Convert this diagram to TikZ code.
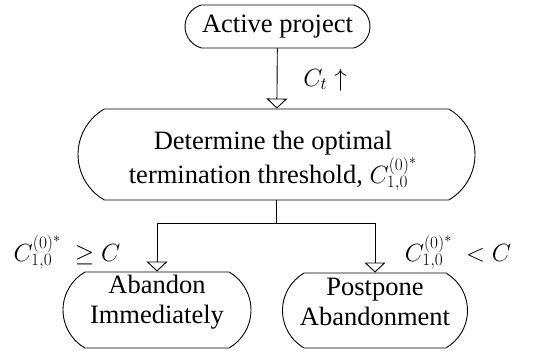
\documentclass[tikz,border=0pt]{standalone}
\usepackage{fontspec}
\setmainfont{Liberation Serif}
\usetikzlibrary{shapes.misc,arrows.meta}
\begin{document}
\begin{tikzpicture}[x=1pt,y=-1pt,
  box/.style={draw, rounded rectangle, rounded rectangle arc length=120, inner sep=0pt, line width=0.9pt},
  txt/.style={align=center, inner sep=0pt, font=\fontsize{26.5}{30}\selectfont},
  flow/.style={draw, line width=0.9pt, -{Triangle[open,length=10pt,width=21pt]}},
  lbl/.style={font=\fontsize{26.5}{30}\selectfont, inner sep=0pt}]
\useasboundingbox (0,0) rectangle (547,351);
\node[box, rounded rectangle arc length=150, minimum width=185pt, minimum height=43pt] (a) at (277.5,26.5) {};
\node[txt] (at) at (277.5,26.5) {Active project};
\node[box, minimum width=397pt, minimum height=91pt] (b) at (276.5,154.5) {};
\node[txt] (bt) at (273,161) {Determine the optimal\\[1pt]termination threshold, $C^{(0)^*}_{1,0}$};
\node[box, minimum width=188pt, minimum height=76pt] (c) at (157,310) {};
\node[txt] (ct) at (157,302) {Abandon\\Immediately};
\node[box, minimum width=185pt, minimum height=75pt] (d) at (375,310.5) {};
\node[txt] (dt) at (375,302) {Postpone\\Abandonment};
\coordinate (j) at (276.5,223);
\draw[flow] (a) -- (b);
\draw[line width=0.9pt] (b.south) -- (j);
\draw[flow] (j) -| (c.north);
\draw[flow] (j) -| (d.north);
\node[lbl] (t1) at (325,80) {$C_t\uparrow$};
\node[lbl] (t2) at (67,252) {$C^{(0)^*}_{1,0}\ \geq C$};
\node[lbl] (t3) at (458,252) {$C^{(0)^*}_{1,0}\ < C$};
\end{tikzpicture}
\end{document}
